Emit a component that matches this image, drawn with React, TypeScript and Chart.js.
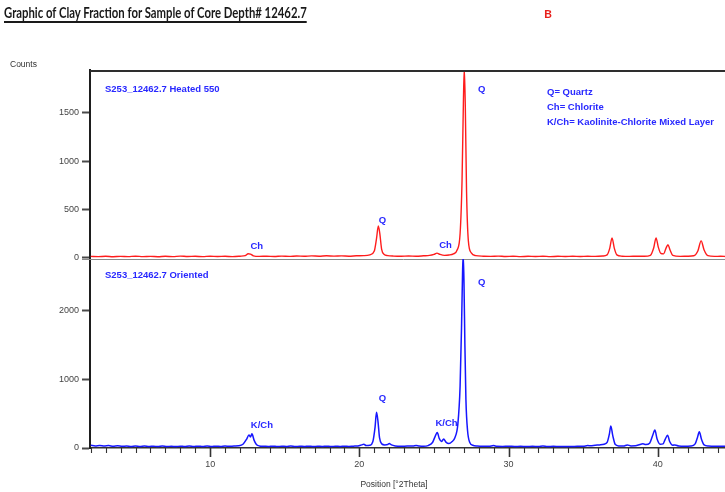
import React, { useEffect, useRef } from 'react';
import { Chart, registerables } from 'chart.js';

Chart.register(...registerables);

// ---- X-ray diffraction scans (position in °2θ, intensity in counts) ----

const heatedTheta = [
  2.0, 2.5, 3.0, 3.5, 4.0, 4.5, 5.0, 5.5, 6.0, 6.5, 7.0, 7.5, 8.0, 8.5, 9.0, 9.5,
  10.0, 10.5, 11.0, 11.5, 12.0, 12.35, 12.55, 12.7, 12.9, 13.3, 13.8, 14.3, 14.8,
  15.3, 15.8, 16.3, 16.8, 17.3, 17.8, 18.3, 18.8, 19.3, 19.8, 20.3, 20.7, 21.0,
  21.15, 21.27, 21.37, 21.49, 21.65, 21.9, 22.3, 22.8, 23.3, 23.8, 24.3, 24.7, 25.0,
  25.2, 25.4, 25.7, 26.0, 26.3, 26.55, 26.75, 26.88, 26.97, 27.03, 27.1, 27.18,
  27.3, 27.5, 27.8, 28.3, 28.8, 29.3, 29.8, 30.3, 30.8, 31.3, 31.8, 32.3, 32.8,
  33.3, 33.8, 34.3, 34.8, 35.3, 35.8, 36.3, 36.6, 36.78, 36.93, 37.08, 37.25, 37.6,
  38.1, 38.6, 39.1, 39.5, 39.72, 39.88, 40.03, 40.2, 40.38, 40.55, 40.68, 40.82,
  41.0, 41.5, 42.0, 42.4, 42.68, 42.9, 43.1, 43.35, 43.8, 44.2, 44.6,
];
const heatedCounts = [
  14, 12, 15, 11, 14, 12, 16, 12, 14, 11, 15, 12, 17, 13, 15, 12,
  16, 13, 15, 12, 16, 22, 42, 38, 20, 14, 16, 13, 17,
  14, 18, 15, 19, 16, 20, 17, 19, 16, 20, 22, 30, 70,
  200, 330, 250, 90, 35, 22, 17, 15, 18, 16, 20, 24, 35,
  48, 35, 25, 28, 40, 80, 250, 800, 1600, 1960, 1550, 700,
  180, 50, 22, 16, 14, 17, 13, 16, 12, 15, 13, 16, 12,
  15, 13, 16, 13, 15, 14, 18, 30, 100, 205, 100, 30, 16,
  14, 16, 15, 25, 100, 205, 110, 45, 40, 100, 135, 80,
  25, 14, 16, 20, 70, 175, 80, 22, 14, 15, 13,
];

const orientedTheta = [
  2.0, 2.3, 2.6, 2.9, 3.2, 3.5, 3.8, 4.1, 4.4, 4.7, 5.0, 5.3, 5.6, 5.9, 6.2, 6.5,
  6.8, 7.1, 7.4, 7.7, 8.0, 8.3, 8.6, 8.9, 9.2, 9.5, 9.8, 10.1, 10.4, 10.7, 11.0,
  11.3, 11.6, 11.9, 12.2, 12.45, 12.6, 12.7, 12.8, 12.95, 13.1, 13.3, 13.6, 13.9,
  14.2, 14.5, 14.8, 15.1, 15.4, 15.7, 16.0, 16.3, 16.6, 16.9, 17.2, 17.5, 17.8,
  18.1, 18.4, 18.7, 19.0, 19.3, 19.6, 19.9, 20.15, 20.3, 20.45, 20.7, 20.9, 21.05,
  21.15, 21.25, 21.35, 21.5, 21.7, 21.9, 22.0, 22.15, 22.4, 22.8, 23.2, 23.6, 23.8,
  24.0, 24.3, 24.6, 24.9, 25.1, 25.22, 25.35, 25.5, 25.65, 25.8, 26.0, 26.2, 26.4,
  26.6, 26.75, 26.85, 26.92, 26.96, 27.01, 27.07, 27.14, 27.25, 27.4, 27.6, 27.9,
  28.3, 28.7, 29.0, 29.2, 29.6, 30.0, 30.4, 30.8, 31.2, 31.6, 32.0, 32.3, 32.6,
  33.0, 33.4, 33.8, 34.2, 34.6, 35.0, 35.3, 35.5, 35.8, 36.1, 36.4, 36.6, 36.75,
  36.85, 36.98, 37.15, 37.4, 37.7, 37.95, 38.2, 38.5, 38.8, 39.0, 39.2, 39.45,
  39.65, 39.8, 39.95, 40.15, 40.35, 40.5, 40.65, 40.8, 41.0, 41.15, 41.4, 41.8,
  42.2, 42.5, 42.65, 42.78, 42.92, 43.1, 43.4, 43.8, 44.2, 44.6,
];
const orientedCounts = [
  40, 30, 38, 28, 35, 26, 32, 24, 30, 22, 29, 21, 28, 22, 27, 20,
  28, 21, 26, 20, 27, 22, 28, 21, 27, 22, 29, 22, 27, 23, 28,
  24, 30, 33, 55, 130, 190, 160, 205, 110, 50, 30, 26, 22,
  27, 21, 26, 22, 28, 21, 26, 22, 27, 21, 26, 22, 27,
  21, 26, 22, 27, 23, 27, 30, 45, 55, 35, 40, 90, 300,
  520, 380, 150, 60, 45, 50, 65, 45, 30, 24, 28, 30, 38,
  30, 26, 35, 80, 180, 225, 140, 95, 130, 85, 65, 90, 150,
  350, 900, 1800, 2600, 2800, 2400, 1500, 700, 250, 80, 40, 28,
  24, 26, 35, 25, 23, 26, 22, 24, 21, 24, 23, 30, 22,
  24, 21, 23, 22, 25, 24, 35, 32, 40, 45, 55, 80, 200,
  320, 180, 50, 30, 28, 45, 30, 32, 50, 60, 50, 70,
  180, 260, 130, 55, 60, 130, 185, 90, 40, 45, 28, 24,
  28, 60, 150, 235, 130, 45, 28, 24, 26, 23,
];

// ---- axes ----
const thetaRange = [1.95, 44.5];
const thetaLabelled = [10, 20, 30, 40];
const heatedRange = [-13, 1942];
const heatedTicks = [0, 500, 1000, 1500];
const orientedRange = [0, 2740];
const orientedTicks = [0, 1000, 2000];

// ---- annotations ----
const heatedName = 'S253_12462.7 Heated 550';
const orientedName = 'S253_12462.7 Oriented';
const heatedPeakText = ['Ch', 'Q', 'Ch', 'Q'];
const heatedPeakTheta = [13.13, 21.55, 25.77, 28.2];
const heatedPeakCounts = [121, 390, 130, 1745];
const orientedPeakText = ['K/Ch', 'Q', 'K/Ch', 'Q'];
const orientedPeakTheta = [13.47, 21.55, 25.84, 28.2];
const orientedPeakCounts = [330, 720, 360, 2405];
const keyLines = ['Q= Quartz', 'Ch= Chlorite', 'K/Ch= Kaolinite-Chlorite Mixed Layer'];

const RED = 'rgb(255, 28, 28)';
const BLUE = 'rgb(22, 22, 255)';
const LABEL_BLUE = 'rgb(40, 40, 255)';
const SANS = '"Liberation Sans", Arial, sans-serif';

const toPoints = (xs: number[], ys: number[]) => xs.map((x, i) => ({ x, y: ys[i] }));

const panelDecor = {
  id: 'panelDecor',
  beforeDatasetsDraw(chart: any) {
    const { ctx, chartArea, scales } = chart;
    const yH = scales.yHeated;
    const x = scales.x;
    ctx.save();
    // baseline of the heated panel, continuing out as its zero tick
    ctx.strokeStyle = '#8a8a8a';
    ctx.lineWidth = 1;
    ctx.beginPath();
    ctx.moveTo(chartArea.left - 8, Math.round(yH.bottom) + 0.5);
    ctx.lineTo(chartArea.right, Math.round(yH.bottom) + 0.5);
    ctx.stroke();
    // minor / major tick marks along the position axis
    ctx.strokeStyle = '#333';
    for (const t of x.ticks) {
      const v = t.value;
      if (Math.abs(v - Math.round(v)) > 1e-6) continue;
      const major = thetaLabelled.includes(v);
      const px = Math.round(x.getPixelForValue(v)) + 0.5;
      ctx.lineWidth = major ? 1.6 : 1.1;
      ctx.beginPath();
      ctx.moveTo(px, chartArea.bottom);
      ctx.lineTo(px, chartArea.bottom + (major ? 9 : 5));
      ctx.stroke();
    }
    ctx.restore();
  },
  afterDatasetsDraw(chart: any) {
    const { ctx, chartArea, scales } = chart;
    const x = scales.x;
    const yH = scales.yHeated;
    const yO = scales.yOriented;
    ctx.save();
    // frame across the top of the plot
    ctx.strokeStyle = '#2e2e2e';
    ctx.lineWidth = 2;
    ctx.beginPath();
    ctx.moveTo(chartArea.left, chartArea.top + 1);
    ctx.lineTo(chartArea.right, chartArea.top + 1);
    ctx.stroke();

    ctx.fillStyle = LABEL_BLUE;
    ctx.font = `bold 9.5px ${SANS}`;
    ctx.textBaseline = 'middle';
    ctx.textAlign = 'left';
    ctx.fillText(heatedName, chartArea.left + 15, yH.top + 19);
    ctx.fillText(orientedName, chartArea.left + 15, yO.top + 16);
    keyLines.forEach((line, i) => {
      ctx.fillText(line, chartArea.left + 457, yH.top + 22 + i * 15);
    });

    ctx.textAlign = 'center';
    heatedPeakText.forEach((t, i) => {
      ctx.fillText(t, x.getPixelForValue(heatedPeakTheta[i]), yH.getPixelForValue(heatedPeakCounts[i]));
    });
    orientedPeakText.forEach((t, i) => {
      ctx.fillText(t, x.getPixelForValue(orientedPeakTheta[i]), yO.getPixelForValue(orientedPeakCounts[i]));
    });
    ctx.restore();
  },
};

function XrdChart() {
  const canvasRef = useRef<HTMLCanvasElement | null>(null);

  useEffect(() => {
    const canvas = canvasRef.current;
    if (!canvas) return;

    const yAxisCommon = {
      type: 'linear' as const,
      position: 'left' as const,
      stack: 'panels',
      stackWeight: 1,
      border: { display: true, color: '#1e1e1e', width: 2 },
      grid: {
        display: true,
        drawOnChartArea: false,
        drawTicks: true,
        tickLength: 8,
        tickWidth: 2,
        tickColor: '#4a4a4a',
        color: 'rgba(0,0,0,0)',
      },
      ticks: {
        color: '#444',
        font: { family: SANS, size: 9 },
        padding: 3,
        callback: (v: any) => String(v),
      },
      afterFit: (s: any) => {
        s.width = 90;
      },
    };

    const chart = new Chart(canvas, {
      type: 'line',
      data: {
        datasets: [
          {
            label: orientedName,
            data: toPoints(orientedTheta, orientedCounts),
            yAxisID: 'yOriented',
            borderColor: BLUE,
            borderWidth: 1.5,
            pointRadius: 0,
            cubicInterpolationMode: 'monotone',
          },
          {
            label: heatedName,
            data: toPoints(heatedTheta, heatedCounts),
            yAxisID: 'yHeated',
            borderColor: RED,
            borderWidth: 1.4,
            pointRadius: 0,
            cubicInterpolationMode: 'monotone',
          },
        ],
      },
      options: {
        responsive: false,
        maintainAspectRatio: false,
        animation: false,
        layout: { padding: { top: 70, left: 0, right: 0, bottom: 0 } },
        plugins: {
          legend: { display: false },
          title: { display: false },
          tooltip: { enabled: false },
        },
        scales: {
          x: {
            type: 'linear',
            min: thetaRange[0],
            max: thetaRange[1],
            border: { display: true, color: '#333', width: 1.5 },
            // tick marks come from the plugin; tickLength only reserves room for them
            grid: { display: false, drawTicks: true, tickLength: 11 },
            afterBuildTicks: (s: any) => {
              const ticks = [];
              for (let v = Math.ceil(thetaRange[0]); v <= thetaRange[1]; v++) ticks.push({ value: v });
              s.ticks = ticks;
            },
            ticks: {
              autoSkip: false,
              maxRotation: 0,
              padding: 0,
              color: '#444',
              font: { family: SANS, size: 9 },
              callback: (v: any) => (thetaLabelled.includes(Number(v)) ? String(v) : ''),
            },
            afterFit: (s: any) => {
              s.height = 44;
            },
          },
          yOriented: {
            ...yAxisCommon,
            min: orientedRange[0],
            max: orientedRange[1],
            afterBuildTicks: (s: any) => {
              s.ticks = orientedTicks.map((v) => ({ value: v }));
            },
          },
          yHeated: {
            ...yAxisCommon,
            min: heatedRange[0],
            max: heatedRange[1],
            afterBuildTicks: (s: any) => {
              s.ticks = heatedTicks.map((v) => ({ value: v }));
            },
          },
        },
      },
      plugins: [panelDecor],
    });

    return () => chart.destroy();
  }, []);

  return <canvas ref={canvasRef} width={725} height={492} style={{ display: 'block' }} />;
}

export default function App() {
  return (
    <div style={{ position: 'absolute', left: 0, top: 0, width: 725, height: 492, background: '#fff', overflow: 'hidden' }}>
      <XrdChart />
      <div
        style={{
          position: 'absolute',
          left: 4,
          top: 3,
          font: 'bold 15px Lato, "Open Sans", sans-serif',
          color: '#1a1a1a',
          textDecoration: 'underline',
          textDecorationThickness: '2px',
          textUnderlineOffset: '3px',
          whiteSpace: 'nowrap',
          transform: 'scaleX(0.755)',
          transformOrigin: 'left top',
        }}
      >
        Graphic of Clay Fraction for Sample of Core Depth# 12462.7
      </div>
      <div
        style={{
          position: 'absolute',
          left: 544,
          top: 6,
          font: 'bold 12px Lato, sans-serif',
          color: '#e8201c',
        }}
      >
        B
      </div>
      <div
        style={{
          position: 'absolute',
          left: 10,
          top: 59,
          font: `8.5px ${SANS}`,
          color: '#333',
        }}
      >
        Counts
      </div>
      <div
        style={{
          position: 'absolute',
          left: 394,
          top: 479,
          transform: 'translateX(-50%)',
          font: `8.5px ${SANS}`,
          color: '#333',
          whiteSpace: 'nowrap',
        }}
      >
        Position [°2Theta]
      </div>
    </div>
  );
}
